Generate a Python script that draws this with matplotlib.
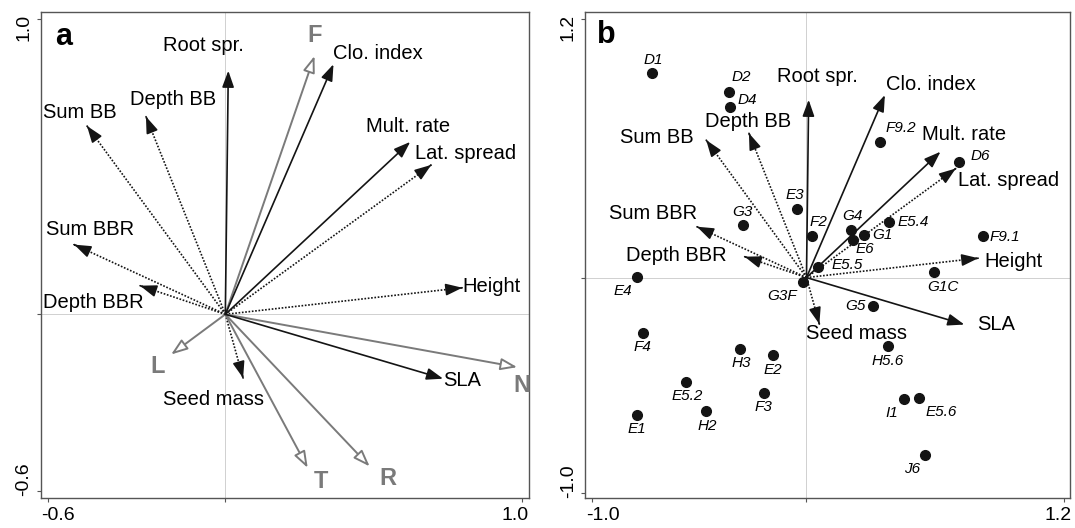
import matplotlib
matplotlib.use("Agg")
import matplotlib.pyplot as plt
from matplotlib.transforms import ScaledTranslation

plt.rcParams['font.family'] = ['Liberation Sans', 'DejaVu Sans']
plt.rcParams['axes.unicode_minus'] = False

# Trait vectors (shared by both panels)
traits = ['Root spr.', 'Clo. index', 'Mult. rate', 'Lat. spread', 'Height', 'SLA',
          'Seed mass', 'Depth BBR', 'Sum BBR', 'Sum BB', 'Depth BB']
trait_x = [0.01, 0.365, 0.624, 0.695, 0.80, 0.735, 0.06, -0.288, -0.51, -0.467, -0.268]
trait_y = [0.825, 0.847, 0.584, 0.506, 0.09, -0.218, -0.216, 0.097, 0.236, 0.638, 0.67]
trait_dotted = [False, False, False, True, True, False, True, True, True, True, True]

# Ellenberg indicator vectors (panel a)
env = ['F', 'N', 'L', 'T', 'R']
env_x = [0.301, 0.985, -0.183, 0.278, 0.487]
env_y = [0.875, -0.179, -0.136, -0.52, -0.515]

# Population scores (panel b)
sites = ['D1', 'D2', 'D4', 'F9.2', 'D6', 'E3', 'G3', 'F2', 'G4', 'G1', 'E5.4', 'E6',
         'E5.5', 'F9.1', 'G1C', 'E4', 'G3F', 'G5', 'F4', 'H3', 'E2', 'H5.6', 'E5.2',
         'F3', 'I1', 'E5.6', 'E1', 'H2', 'J6']
site_x = [-0.719, -0.360, -0.355, 0.340, 0.711, -0.046, -0.294, 0.028, 0.209, 0.267,
          0.386, 0.216, 0.054, 0.822, 0.592, -0.788, -0.015, 0.309, -0.762, -0.309,
          -0.155, 0.379, -0.560, -0.198, 0.453, 0.522, -0.788, -0.467, 0.552]
site_y = [0.949, 0.863, 0.791, 0.631, 0.534, 0.317, 0.243, 0.191, 0.223, 0.199,
          0.259, 0.173, 0.047, 0.191, 0.024, 0.003, -0.020, -0.133, -0.256, -0.331,
          -0.361, -0.319, -0.483, -0.534, -0.565, -0.557, -0.636, -0.621, -0.821]

# label placement (layout only)
site_off = [(1, 9.5), (8.5, 10.5), (12, 5), (15, 9.5), (15.5, 5), (-1, 10), (-1, 9.5),
            (4, 10.5), (1, 9.5), (13.5, -0.5), (17, -0.5), (8.5, -6), (21, 2), (16, -0.5),
            (6.5, -10.5), (-10, -10), (-15, -10.5), (-12.5, 0), (-0.5, -10.5), (1, -10),
            (0, -10.5), (0, -10.5), (1, -10), (0, -10), (-8.5, -9.5), (16, -10.5),
            (0, -10), (0.5, -10.5), (-9.5, -10.5)]
label_a = [(-0.211, 0.912), (0.365, 0.882), (0.476, 0.636), (0.639, 0.545), (0.799, 0.095),
           (0.736, -0.225), (-0.209, -0.287), (-0.614, 0.041), (-0.605, 0.286),
           (-0.614, 0.684), (-0.323, 0.728)]
label_b = [(-0.136, 0.932), (0.368, 0.898), (0.538, 0.665), (0.706, 0.45), (0.827, 0.074),
           (0.796, -0.22), (0.0, -0.26), (-0.842, 0.102), (-0.92, 0.297),
           (-0.869, 0.65), (-0.474, 0.725)]
env_label = [(0.301, 0.944), (1.0, -0.242), (-0.228, -0.177), (0.322, -0.567), (0.55, -0.555)]

GRAY = '#7a7a7a'
BLACK = '#141414'
HEAD = '-|>,head_length=0.5,head_width=0.18'


def arrow(ax, x, y, color, dotted=False, fc=None, lw=1.3):
    if dotted:
        # dotted shaft, solid head
        ax.plot([0, x], [0, y], color=color, lw=lw, ls=(0, (1, 1)), zorder=2)
        start = (x * 0.999, y * 0.999)
    else:
        start = (0, 0)
    ax.annotate('', xy=(x, y), xytext=start,
                arrowprops=dict(arrowstyle=HEAD, mutation_scale=20, color=color,
                                fc=fc if fc else color, lw=lw,
                                shrinkA=0, shrinkB=0), zorder=3)


def style_axes(ax, lim_x, lim_y, ticks_x, ticks_y):
    ax.set_xlim(*lim_x)
    ax.set_ylim(*lim_y)
    ax.axhline(0, color='#d0d0d0', lw=0.7, zorder=0)
    ax.axvline(0, color='#d0d0d0', lw=0.7, zorder=0)
    ax.set_xticks([ticks_x[0], 0, ticks_x[1]])
    ax.set_xticklabels([f'{ticks_x[0]:.1f}', '', f'{ticks_x[1]:.1f}'])
    ax.set_yticks([ticks_y[0], 0, ticks_y[1]])
    ax.set_yticklabels([f'{ticks_y[0]:.1f}', '', f'{ticks_y[1]:.1f}'], rotation=90)
    ax.tick_params(direction='out', length=3, width=0.8, color='#555555',
                   labelsize=14, pad=3)
    xl = ax.get_xticklabels()
    xl[0].set_ha('left')
    xl[0].set_transform(xl[0].get_transform() + ScaledTranslation(-0.06, 0, fig.dpi_scale_trans))
    xl[2].set_ha('right')
    xl[2].set_transform(xl[2].get_transform() + ScaledTranslation(0.07, 0, fig.dpi_scale_trans))
    yl = ax.get_yticklabels()
    yl[0].set_va('bottom')
    yl[0].set_transform(yl[0].get_transform() + ScaledTranslation(0, -0.05, fig.dpi_scale_trans))
    yl[2].set_va('top')
    yl[2].set_transform(yl[2].get_transform() + ScaledTranslation(0, 0.05, fig.dpi_scale_trans))
    for s in ax.spines.values():
        s.set_color('#555555')
        s.set_linewidth(1.0)


fig = plt.figure(figsize=(10.75, 5.28), dpi=100)
ax1 = fig.add_axes([0.0379, 0.0563, 0.4545, 0.9205])
ax2 = fig.add_axes([0.5442, 0.0563, 0.4512, 0.9205])

# panel a
style_axes(ax1, (-0.623, 1.026), (-0.623, 1.023), (-0.6, 1.0), (-0.6, 1.0))
for i, name in enumerate(env):
    arrow(ax1, env_x[i], env_y[i], GRAY, fc='white', lw=1.4)
    ax1.text(*env_label[i], name, color=GRAY, fontsize=17, fontweight='bold',
             ha='center', va='center')
for i, name in enumerate(traits):
    arrow(ax1, trait_x[i], trait_y[i], BLACK, dotted=trait_dotted[i], lw=1.2)
    ax1.text(*label_a[i], name, fontsize=14.5, ha='left', va='center')
ax1.text(-0.547, 0.94, 'a', fontsize=22, fontweight='bold', ha='center', va='center')

# panel b
style_axes(ax2, (-1.031, 1.227), (-1.024, 1.231), (-1.0, 1.2), (-1.0, 1.2))
for i, name in enumerate(traits):
    arrow(ax2, trait_x[i], trait_y[i], BLACK, dotted=trait_dotted[i], lw=1.2)
    ax2.text(*label_b[i], name, fontsize=14.5, ha='left', va='center')
ax2.plot(site_x, site_y, 'o', color=BLACK, ms=7, zorder=5)
for i, name in enumerate(sites):
    ax2.annotate(name, (site_x[i], site_y[i]), xytext=site_off[i],
                 textcoords='offset points', fontsize=11, fontstyle='italic',
                 ha='center', va='center')
ax2.text(-0.93, 1.126, 'b', fontsize=22, fontweight='bold', ha='center', va='center')

fig.savefig('out.png', dpi=100)
